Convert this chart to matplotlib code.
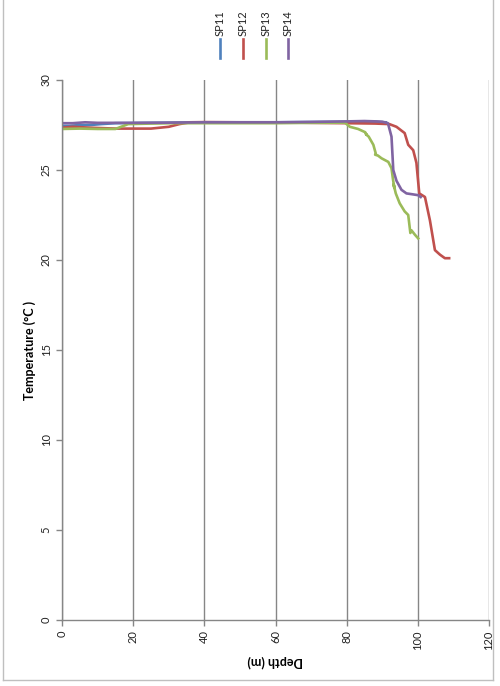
import matplotlib.pyplot as plt
from matplotlib.lines import Line2D

plt.rcParams['font.family'] = ['Lato', 'DejaVu Sans']

# temperature profiles, depth (m) vs temperature (deg C)
sp11_depth = [0, 2, 5, 8, 11, 15, 25, 40, 60, 80, 88, 91]
sp11_temp = [27.45, 27.45, 27.5, 27.5, 27.55, 27.6, 27.62, 27.65, 27.65, 27.68, 27.68, 27.65]

sp12_depth = [0, 3, 8, 15, 20, 25, 30, 33, 36, 40, 50, 60, 70, 80, 88, 92, 94,
              96.3, 97.3, 98.7, 99.6, 100.4, 102, 103.4, 104.8, 106.2, 107.6, 108.8]
sp12_temp = [27.35, 27.4, 27.35, 27.3, 27.3, 27.3, 27.4, 27.55, 27.65, 27.66, 27.65,
             27.65, 27.62, 27.6, 27.58, 27.55, 27.4, 27.05, 26.4, 26.1, 25.4, 23.7,
             23.5, 22.2, 20.55, 20.3, 20.1, 20.1]

sp13_depth = [0, 5, 10, 15, 18.6, 25, 31, 45, 60, 70, 79.5, 80.9, 83.2, 85.2, 85.6,
              85.4, 86.2, 87.5, 88.2, 88.0, 88.8, 89.8, 91.7, 92.6, 93.0, 93.4, 93.2,
              93.8, 94.9, 96.3, 97.3, 97.9, 98.2, 98.6, 99.2, 100.1]
sp13_temp = [27.28, 27.3, 27.28, 27.28, 27.55, 27.58, 27.6, 27.6, 27.6, 27.62, 27.63,
             27.4, 27.28, 27.1, 26.95, 27.0, 26.85, 26.4, 25.9, 25.85, 25.8, 25.65,
             25.45, 25.1, 24.5, 24.0, 24.2, 23.7, 23.15, 22.7, 22.5, 21.5, 21.65,
             21.55, 21.4, 21.2]

sp14_depth = [0, 3, 6.5, 10, 20, 30, 40, 50, 60, 70, 80, 85, 88.4, 90, 91.6, 92.6,
              93.1, 94.0, 95.4, 96.8, 98.5, 100.1, 100.8]
sp14_temp = [27.6, 27.6, 27.65, 27.62, 27.62, 27.63, 27.65, 27.65, 27.65, 27.67,
             27.7, 27.72, 27.7, 27.68, 27.6, 26.85, 25.0, 24.4, 23.9, 23.7, 23.65,
             23.6, 23.5]

names = ['SP11', 'SP12', 'SP13', 'SP14']
colors = ['#4F81BD', '#C0504D', '#9BBB59', '#8064A2']
series = [(sp11_depth, sp11_temp), (sp12_depth, sp12_temp),
          (sp13_depth, sp13_temp), (sp14_depth, sp14_temp)]

W, H = 500, 686
fig = plt.figure(figsize=(W / 100, H / 100), dpi=100)
ax = fig.add_axes([62 / W, 1 - 620 / H, (489 - 62) / W, (620 - 80) / H])

for (d, t), c in zip(series, colors):
    ax.plot(d, t, color=c, linewidth=1.9, solid_joinstyle='round')

grey = '#868686'
ax.set_xlim(0, 120)
ax.set_ylim(0, 30)
ax.set_xticks(range(0, 121, 20))
ax.set_yticks(range(0, 31, 5))
ax.grid(axis='x', color=grey, linewidth=1.0)
ax.set_axisbelow(True)
for side in ['top', 'right']:
    ax.spines[side].set_visible(False)
for side in ['left', 'bottom']:
    ax.spines[side].set_color(grey)
    ax.spines[side].set_linewidth(1.0)
ax.tick_params(colors=grey, length=4, width=1.0, labelcolor='#222222', labelsize=8)
for lab in ax.get_xticklabels() + ax.get_yticklabels():
    lab.set_rotation(90)
for lab in ax.get_yticklabels():
    lab.set_va('center')

ax.set_xlabel('Depth (m)', fontsize=9, fontweight='bold', rotation=180, labelpad=4)
ax.set_ylabel('Temperature (°C )', fontsize=9, fontweight='bold', labelpad=3.5)

# legend along the top
leg_x = [220, 242.7, 266, 288.3]
for x, name, c in zip(leg_x, names, colors):
    fig.text(x / W, 1 - 36 / H, name, rotation=90, ha='center', va='bottom',
             fontsize=8, color='#222222')
    fig.add_artist(Line2D([x / W, x / W], [1 - 39 / H, 1 - 58 / H],
                          color=c, linewidth=1.9, transform=fig.transFigure))

# chart frame
frame = '#BFBFBF'
fig.add_artist(Line2D([3 / W, 3 / W], [1, 1 - 680 / H], color=frame, lw=1, transform=fig.transFigure))
fig.add_artist(Line2D([493 / W, 493 / W], [1, 1 - 680 / H], color=frame, lw=1, transform=fig.transFigure))
fig.add_artist(Line2D([3 / W, 493 / W], [1 - 680 / H, 1 - 680 / H], color=frame, lw=1, transform=fig.transFigure))

fig.savefig('out.png', dpi=100)
